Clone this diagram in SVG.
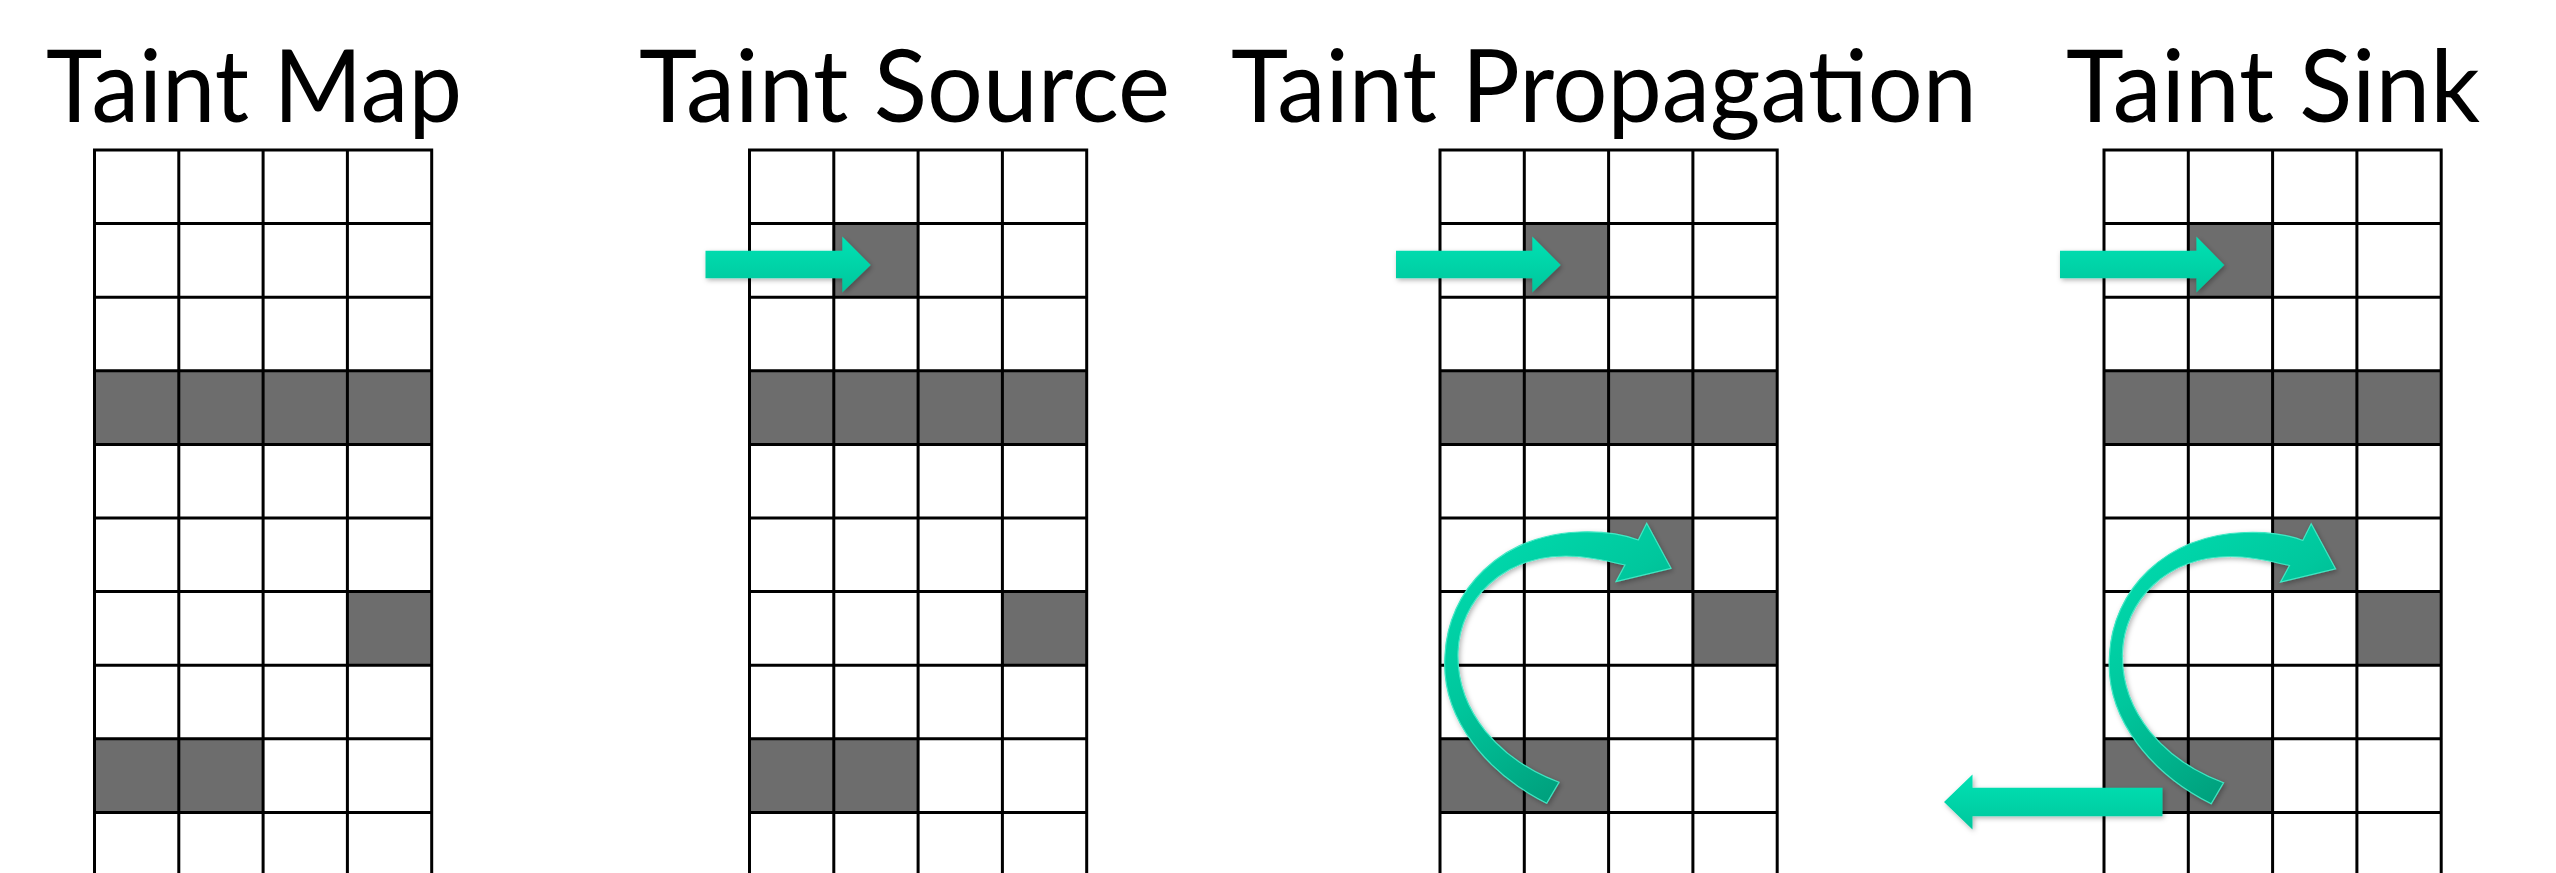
<svg xmlns="http://www.w3.org/2000/svg" width="2556" height="873" viewBox="0 0 2556 873">
  <defs>
    <style>
      .title { font-family: Lato, "Liberation Sans", sans-serif; font-size: 100px; fill: #000; }
      .cell { fill: #6d6d6d; }
      .grid { fill: none; stroke: #000; stroke-width: 3; }
      .arrow { fill: url(#tealV); filter: url(#shadow); }
      .curve { fill: url(#tealC); stroke: #3fe8c4; stroke-width: 1.2; filter: url(#shadow); }
    </style>
    <linearGradient id="tealV" x1="0" y1="0" x2="0" y2="1">
      <stop offset="0" stop-color="#00e2b4"/>
      <stop offset="1" stop-color="#00c69c"/>
    </linearGradient>
    <linearGradient id="tealC" x1="0" y1="0" x2="0.6" y2="1">
      <stop offset="0" stop-color="#00e0b2"/>
      <stop offset="0.5" stop-color="#00c79d"/>
      <stop offset="1" stop-color="#009a78"/>
    </linearGradient>
    <filter id="shadow" x="-20%" y="-20%" width="140%" height="140%">
      <feDropShadow dx="1.5" dy="2" stdDeviation="2.5" flood-color="#000" flood-opacity="0.3"/>
    </filter>
    <path id="gridlines" class="grid" d="M0,0H337.2M0,73.6H337.2M0,147.2H337.2M0,220.8H337.2M0,294.4H337.2M0,368H337.2M0,441.6H337.2M0,515.2H337.2M0,588.8H337.2M0,662.4H337.2M0,736H337.2M0,-1.5V740M84.3,0V740M168.6,0V740M252.9,0V740M337.2,-1.5V740"/>
  </defs>
  <rect width="2556" height="873" fill="#fff"/>

  <g id="panel-taint-map">
    <text class="title" x="46" y="122" textLength="416" lengthAdjust="spacingAndGlyphs">Taint Map</text>
    <g transform="translate(94.5,150)">
      <rect class="cell" x="0" y="220.8" width="337.2" height="73.6"/>
      <rect class="cell" x="252.9" y="441.6" width="84.3" height="73.6"/>
      <rect class="cell" x="0" y="588.8" width="168.6" height="73.6"/>
      <use href="#gridlines"/>
    </g>
  </g>

  <g id="panel-taint-source">
    <text class="title" x="639" y="122" textLength="531" lengthAdjust="spacingAndGlyphs">Taint Source</text>
    <g transform="translate(749.5,150)">
      <rect class="cell" x="84.3" y="73.6" width="84.3" height="73.6"/>
      <rect class="cell" x="0" y="220.8" width="337.2" height="73.6"/>
      <rect class="cell" x="252.9" y="441.6" width="84.3" height="73.6"/>
      <rect class="cell" x="0" y="588.8" width="168.6" height="73.6"/>
      <use href="#gridlines"/>
    </g>
  </g>

  <g id="panel-taint-propagation">
    <text class="title" x="1231" y="122" textLength="746" lengthAdjust="spacingAndGlyphs">Taint Propagation</text>
    <g transform="translate(1440,150)">
      <rect class="cell" x="84.3" y="73.6" width="84.3" height="73.6"/>
      <rect class="cell" x="0" y="220.8" width="337.2" height="73.6"/>
      <rect class="cell" x="168.6" y="368" width="84.3" height="73.6"/>
      <rect class="cell" x="252.9" y="441.6" width="84.3" height="73.6"/>
      <rect class="cell" x="0" y="588.8" width="168.6" height="73.6"/>
      <use href="#gridlines"/>
    </g>
  </g>

  <g id="panel-taint-sink">
    <text class="title" x="2066" y="122" textLength="414" lengthAdjust="spacingAndGlyphs">Taint Sink</text>
    <g transform="translate(2104,150)">
      <rect class="cell" x="84.3" y="73.6" width="84.3" height="73.6"/>
      <rect class="cell" x="0" y="220.8" width="337.2" height="73.6"/>
      <rect class="cell" x="168.6" y="368" width="84.3" height="73.6"/>
      <rect class="cell" x="252.9" y="441.6" width="84.3" height="73.6"/>
      <rect class="cell" x="0" y="588.8" width="168.6" height="73.6"/>
      <use href="#gridlines"/>
    </g>
  </g>

  <g id="connectors">
    <!-- source arrows -->
    <path class="arrow" d="M705.5,250.8H842.3V236.6L870.7,265L842.3,292.5V278.3H705.5Z"/>
    <path class="arrow" d="M1396,250.8H1532.3V236.6L1560.7,265L1532.3,292.5V278.3H1396Z"/>
    <path class="arrow" d="M2060,250.8H2196.4V236.6L2224.3,265L2196.4,292.5V278.3H2060Z"/>
    <!-- propagation curved arrows -->
    <path id="curve1" class="curve" d="M1546.7,803.3C1490,775 1440,720 1445,655C1448,590 1500,535 1580,532C1605,531 1625,535 1638.3,540L1646.7,523.3L1671,568.3L1616,581.7L1625,565C1600,559 1582,556 1566,556C1502,556 1460,600 1458,652C1456,712 1500,760 1559,782.3Z"/>
    <path class="curve" transform="translate(664.5,0.5)" d="M1546.7,803.3C1490,775 1440,720 1445,655C1448,590 1500,535 1580,532C1605,531 1625,535 1638.3,540L1646.7,523.3L1671,568.3L1616,581.7L1625,565C1600,559 1582,556 1566,556C1502,556 1460,600 1458,652C1456,712 1500,760 1559,782.3Z"/>
    <!-- sink arrow -->
    <path class="arrow" d="M2162.5,787.8H1972.5V774.5L1944,802L1972.5,829.5V816.2H2162.5Z"/>
  </g>
</svg>
